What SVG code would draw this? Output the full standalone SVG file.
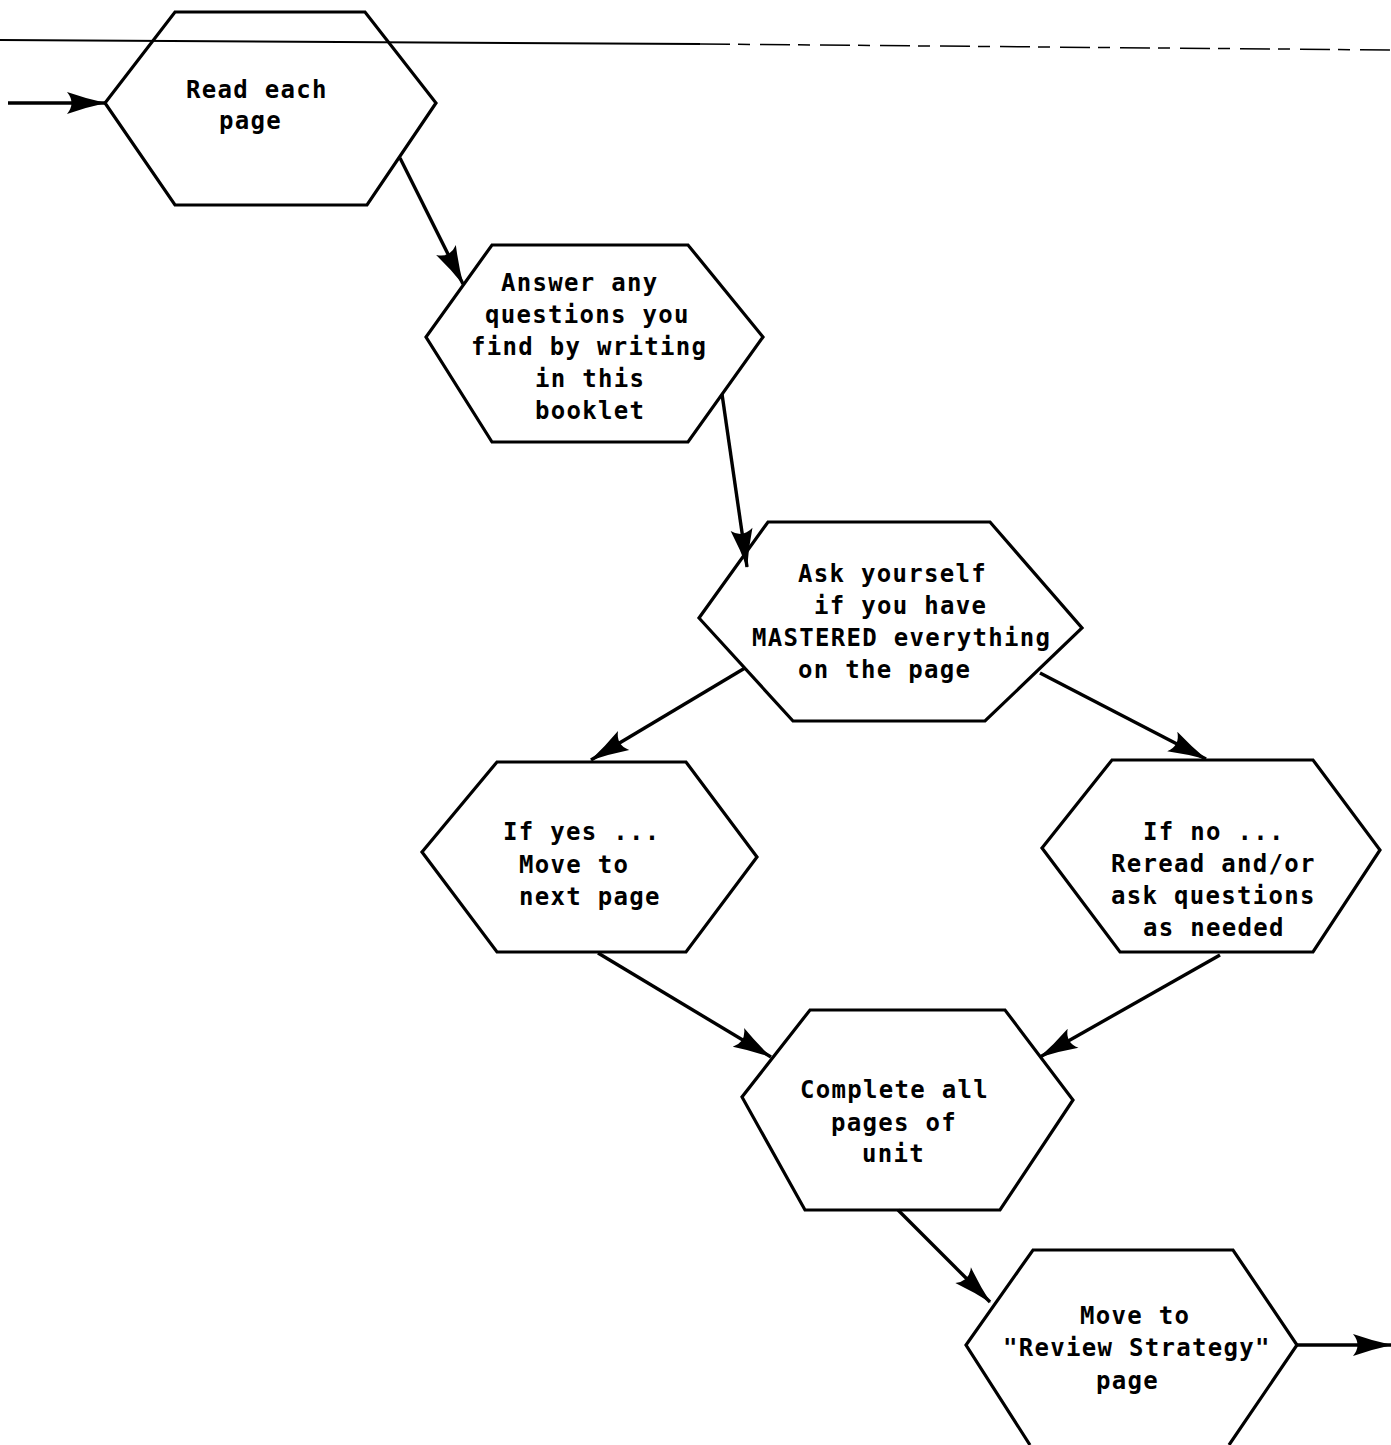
<svg xmlns="http://www.w3.org/2000/svg" width="1391" height="1445" viewBox="0 0 1391 1445">
<style>
.hex{fill:none;stroke:#000;stroke-width:3.2;stroke-linejoin:miter}
.t{font-family:"DejaVu Sans Mono","Liberation Mono",monospace;font-size:24px;font-weight:bold;letter-spacing:1.3px;fill:#000}
.c{fill:none;stroke:#000;stroke-width:3.4}
</style>
<defs>
<marker id="ah" markerUnits="userSpaceOnUse" markerWidth="42" markerHeight="26" viewBox="-40 -13 42 26" refX="0" refY="0" orient="auto">
<path d="M1,0 Q-18,-4 -38,-11 Q-29,0 -38,11 Q-18,4 1,0 Z" fill="#000"/>
</marker>
</defs>
<rect width="1391" height="1445" fill="#fff"/>
<g id="scanline">
<path d="M0,40 L700,44" stroke="#000" stroke-width="2" fill="none"/>
<path d="M700,44 L1391,50" stroke="#000" stroke-width="1.5" stroke-dasharray="30 8 12 10" fill="none"/>
</g>
<g id="connectors">
<line class="c" x1="8" y1="103" x2="105" y2="103" marker-end="url(#ah)"/>
<line class="c" x1="400" y1="158" x2="463" y2="284" marker-end="url(#ah)"/>
<line class="c" x1="722" y1="394" x2="747" y2="567" marker-end="url(#ah)"/>
<line class="c" x1="745" y1="668" x2="591" y2="760" marker-end="url(#ah)"/>
<line class="c" x1="1040" y1="673" x2="1206" y2="759" marker-end="url(#ah)"/>
<line class="c" x1="598" y1="953" x2="771" y2="1057" marker-end="url(#ah)"/>
<line class="c" x1="1220" y1="955" x2="1040" y2="1057" marker-end="url(#ah)"/>
<line class="c" x1="898" y1="1210" x2="990" y2="1302" marker-end="url(#ah)"/>
<line class="c" x1="1297" y1="1345" x2="1391" y2="1345" marker-end="url(#ah)"/>
</g>
<g id="n1">
<polygon class="hex" points="175,12 365,12 436,103 367,205 175,205 105,103"/>
<text class="t" x="186" y="98">Read each</text>
<text class="t" x="219" y="129">page</text>
</g>
<g id="n2">
<polygon class="hex" points="492,245 688,245 763,337 688,442 492,442 426,337"/>
<text class="t" x="501" y="291">Answer any</text>
<text class="t" x="485" y="323">questions you</text>
<text class="t" x="471" y="355">find by writing</text>
<text class="t" x="535" y="387">in this</text>
<text class="t" x="535" y="419">booklet</text>
</g>
<g id="n3">
<polygon class="hex" points="768,522 990,522 1082,628 985,721 793,721 699,618"/>
<text class="t" x="798" y="582">Ask yourself</text>
<text class="t" x="814" y="614">if you have</text>
<text class="t" x="752" y="646">MASTERED everything</text>
<text class="t" x="798" y="678">on the page</text>
</g>
<g id="n4">
<polygon class="hex" points="497,762 686,762 757,857 686,952 497,952 422,852"/>
<text class="t" x="503" y="840">If yes ...</text>
<text class="t" x="519" y="873">Move to</text>
<text class="t" x="519" y="905">next page</text>
</g>
<g id="n5">
<polygon class="hex" points="1112,760 1313,760 1380,850 1313,952 1120,952 1042,848"/>
<text class="t" x="1143" y="840">If no ...</text>
<text class="t" x="1111" y="872">Reread and/or</text>
<text class="t" x="1111" y="904">ask questions</text>
<text class="t" x="1143" y="936">as needed</text>
</g>
<g id="n6">
<polygon class="hex" points="810,1010 1005,1010 1073,1100 1000,1210 805,1210 742,1097"/>
<text class="t" x="800" y="1098">Complete all</text>
<text class="t" x="831" y="1131">pages of</text>
<text class="t" x="862" y="1162">unit</text>
</g>
<g id="n7">
<polyline class="hex" points="1030,1445 966,1345 1033,1250 1233,1250 1297,1345 1229,1445"/>
<text class="t" x="1080" y="1324">Move to</text>
<text class="t" x="1003" y="1356">"Review Strategy"</text>
<text class="t" x="1096" y="1389">page</text>
</g>
</svg>
